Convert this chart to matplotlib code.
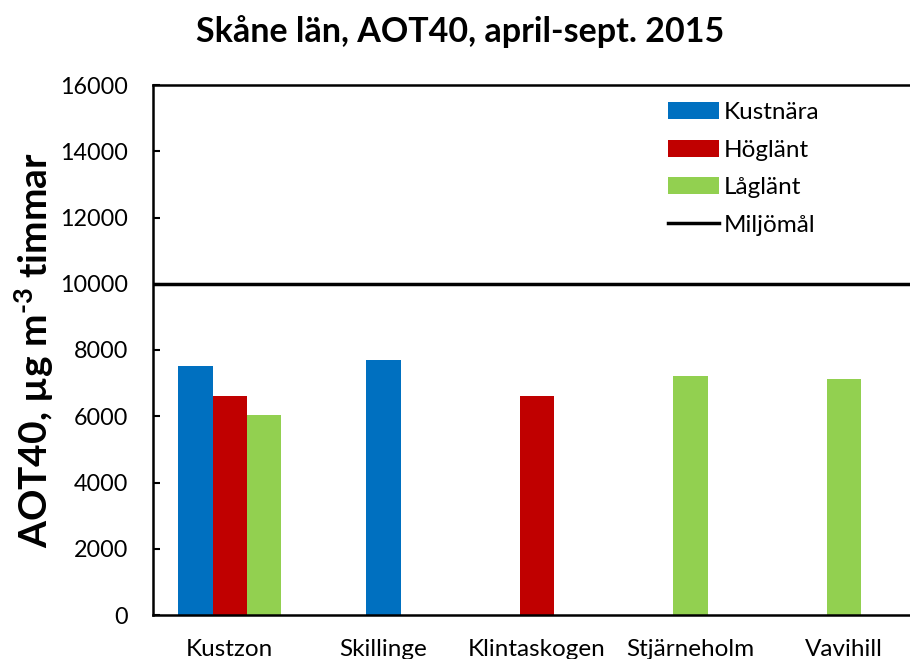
import numpy as np
import matplotlib.pyplot as plt

plt.rcParams['font.family'] = ['Lato', 'DejaVu Sans']
plt.rcParams['mathtext.fontset'] = 'custom'
plt.rcParams['mathtext.rm'] = 'Lato:bold'
plt.rcParams['mathtext.it'] = 'Lato:bold'
plt.rcParams['mathtext.bf'] = 'Lato:bold'

stations = ['Kustzon', 'Skillinge', 'Klintaskogen', 'Stjärneholm', 'Vavihill']
kustnara = [7520, 7700, np.nan, np.nan, np.nan]
hoglant = [6610, np.nan, 6610, np.nan, np.nan]
laglant = [6040, np.nan, np.nan, 7220, 7130]
miljomal = 10000

fig = plt.figure(figsize=(9.1, 6.59), dpi=100)
ax = fig.add_axes([153 / 910, 44 / 659, 768 / 910, 530 / 659])

x = np.arange(len(stations))
w = 0.223
# Kustzon has three bars side by side, the others one centred bar
off_k = np.array([-w, 0, 0, 0, 0])
off_l = np.array([w, 0, 0, 0, 0])
b1 = ax.bar(x + off_k, kustnara, w, color='#0070C0', label='Kustnära')
b2 = ax.bar(x, hoglant, w, color='#C00000', label='Höglänt')
b3 = ax.bar(x + off_l, laglant, w, color='#92D050', label='Låglänt')
ln = ax.axhline(miljomal, color='black', lw=2.5, label='Miljömål')

ax.set_xlim(-0.5, len(stations) - 0.5)
ax.set_ylim(0, 16000)
ax.set_yticks(np.arange(0, 16001, 2000))
ax.set_xticks(x)
ax.set_xticklabels(stations)
ax.tick_params(axis='y', direction='in', length=5, width=1.5, pad=18, labelsize=16.8)
ax.tick_params(axis='x', length=0, pad=17, labelsize=17.5)
for s in ax.spines.values():
    s.set_linewidth(1.8)

ax.set_ylabel('AOT40, µg m$^{\\text{-3}}$ timmar', fontsize=28, fontweight='bold', labelpad=3)
fig.text(460 / 910, 1 - 32 / 659, 'Skåne län, AOT40, april-sept. 2015',
         ha='center', va='center', fontsize=24.5, fontweight='bold')

ax.legend([b1, b2, b3, ln], ['Kustnära', 'Höglänt', 'Låglänt', 'Miljömål'],
          loc='upper left', bbox_to_anchor=(656 / 910, 1 - 90 / 659),
          bbox_transform=fig.transFigure, frameon=False, fontsize=17.5,
          handlelength=2.1, handletextpad=0.2, labelspacing=0.68, borderpad=0)

fig.savefig('out.png', dpi=100)
